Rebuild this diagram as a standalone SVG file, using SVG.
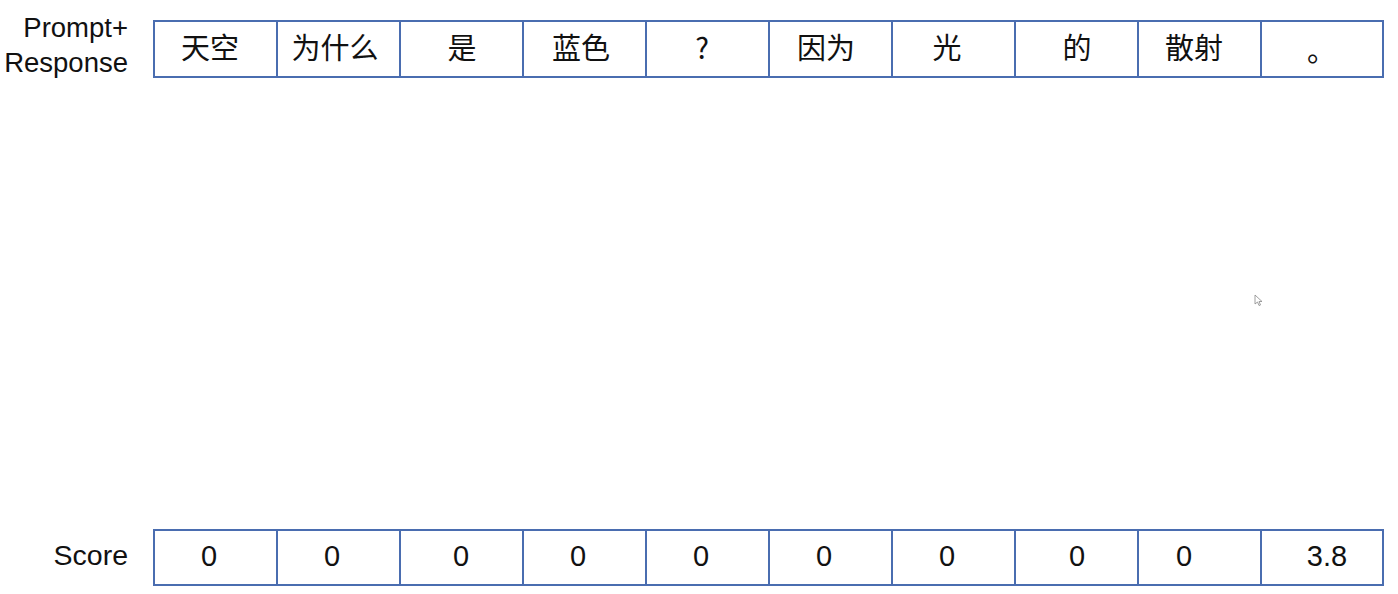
<svg xmlns="http://www.w3.org/2000/svg" width="1398" height="594" viewBox="0 0 1398 594">
<style>
.cell{fill:#ffffff;stroke:#4a6db0;stroke-width:2}
.cjk{font-family:"Noto Sans CJK SC","Noto Sans",sans-serif;font-size:29px;fill:#111;text-anchor:middle}
.num{font-family:"Liberation Sans","Noto Sans",sans-serif;font-size:29px;fill:#111;text-anchor:middle}
.lbl{font-family:"Liberation Sans","Noto Sans",sans-serif;font-size:27.5px;fill:#111;text-anchor:end}
</style>
<rect width="1398" height="594" fill="#ffffff"/>
<g id="label-prompt"><text class="lbl" x="128" y="37">Prompt+</text><text class="lbl" x="128" y="72">Response</text></g>
<g id="label-score"><text class="lbl" x="128" y="565" style="font-size:28.5px">Score</text></g>
<g id="tokens">
<g id="t1"><rect class="cell" x="154" y="21" width="123" height="56"/><text class="cjk" x="210" y="59">天空</text></g>
<g id="t2"><rect class="cell" x="277" y="21" width="123" height="56"/><text class="cjk" x="335" y="59">为什么</text></g>
<g id="t3"><rect class="cell" x="400" y="21" width="123" height="56"/><text class="cjk" x="462" y="59">是</text></g>
<g id="t4"><rect class="cell" x="523" y="21" width="123" height="56"/><text class="cjk" x="581" y="59">蓝色</text></g>
<g id="t5"><rect class="cell" x="646" y="21" width="123" height="56"/><text class="cjk" x="702" y="59">?</text></g>
<g id="t6"><rect class="cell" x="769" y="21" width="123" height="56"/><text class="cjk" x="826" y="59">因为</text></g>
<g id="t7"><rect class="cell" x="892" y="21" width="123" height="56"/><text class="cjk" x="947" y="59">光</text></g>
<g id="t8"><rect class="cell" x="1015" y="21" width="123" height="56"/><text class="cjk" x="1077" y="59">的</text></g>
<g id="t9"><rect class="cell" x="1138" y="21" width="123" height="56"/><text class="cjk" x="1194" y="59">散射</text></g>
<g id="t10"><rect class="cell" x="1261" y="21" width="122" height="56"/><text class="cjk" x="1307" y="62" style="text-anchor:start">。</text></g>
</g>
<g id="scores">
<g id="s1"><rect class="cell" x="154" y="530" width="123" height="55"/><text class="num" x="209" y="566">0</text></g>
<g id="s2"><rect class="cell" x="277" y="530" width="123" height="55"/><text class="num" x="332" y="566">0</text></g>
<g id="s3"><rect class="cell" x="400" y="530" width="123" height="55"/><text class="num" x="461" y="566">0</text></g>
<g id="s4"><rect class="cell" x="523" y="530" width="123" height="55"/><text class="num" x="578" y="566">0</text></g>
<g id="s5"><rect class="cell" x="646" y="530" width="123" height="55"/><text class="num" x="701" y="566">0</text></g>
<g id="s6"><rect class="cell" x="769" y="530" width="123" height="55"/><text class="num" x="824" y="566">0</text></g>
<g id="s7"><rect class="cell" x="892" y="530" width="123" height="55"/><text class="num" x="947" y="566">0</text></g>
<g id="s8"><rect class="cell" x="1015" y="530" width="123" height="55"/><text class="num" x="1077" y="566">0</text></g>
<g id="s9"><rect class="cell" x="1138" y="530" width="123" height="55"/><text class="num" x="1184" y="566">0</text></g>
<g id="s10"><rect class="cell" x="1261" y="530" width="122" height="55"/><text class="num" x="1327" y="566">3.8</text></g>
</g>
<g id="connectors"></g>
<g id="cursor"><path d="M1255,295 L1255,304 L1257.5,302 L1259,305.5 L1260.5,305 L1259,301.5 L1262,301.5 Z" fill="#fff" stroke="#888" stroke-width="0.8"/></g>
</svg>
